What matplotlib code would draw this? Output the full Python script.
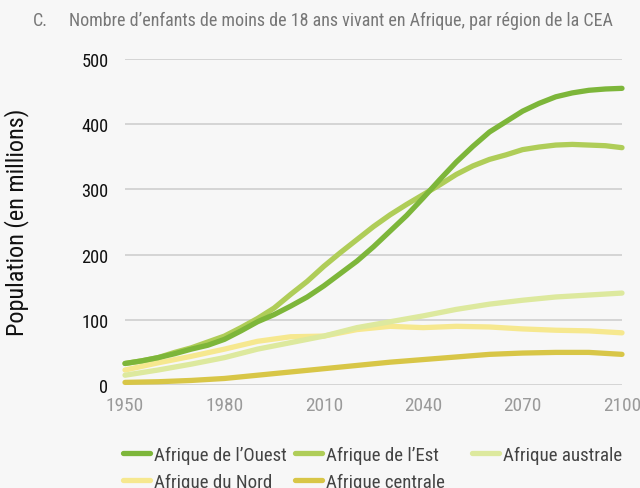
import matplotlib
matplotlib.use("Agg")
import matplotlib.pyplot as plt
from matplotlib import font_manager

names = {f.name for f in font_manager.fontManager.ttflist}
FONT = "DejaVu Sans"
for cand in ["Roboto Condensed", "Liberation Sans Narrow", "Arial Narrow", "Roboto"]:
    if cand in names:
        FONT = cand
        break

years5 = [1950, 1955, 1960, 1965, 1970, 1975, 1980, 1985, 1990, 1995, 2000, 2005,
          2010, 2015, 2020, 2025, 2030, 2035, 2040, 2045, 2050, 2055, 2060, 2065,
          2070, 2075, 2080, 2085, 2090, 2095, 2100]
years10 = [1950, 1960, 1970, 1980, 1990, 2000, 2010, 2020, 2030, 2040,
           2050, 2060, 2070, 2080, 2090, 2100]
ouest = [33, 37, 42, 48, 55, 61, 70, 83, 97, 108, 121, 135, 152, 171, 190, 212,
         236, 260, 287, 315, 342, 366, 388, 404, 420, 432, 442, 448, 452, 454, 455]
est = [33, 37, 42, 50, 57, 66, 75, 88, 102, 118, 139, 159, 182, 203, 223, 243,
       261, 277, 292, 307, 323, 336, 346, 353, 361, 365, 368, 369, 368, 367, 364]
australe = [15, 23, 32, 42, 55, 65, 75, 88, 97, 106, 116, 124, 130, 135, 138, 141]
nord = [23, 34, 44, 55, 67, 74, 75, 85, 90, 88, 90, 89, 86, 84, 83, 80]
centrale = [4, 5, 7, 10, 15, 20, 25, 30, 35, 39, 43, 47, 49, 50, 50, 47]

labels = ["Afrique de l\u2019Ouest", "Afrique de l\u2019Est", "Afrique australe",
          "Afrique du Nord", "Afrique centrale"]
series = [(years5, ouest), (years5, est), (years10, australe),
          (years10, nord), (years10, centrale)]
colors = ["#7db63a", "#afcd58", "#dde99e", "#f6e88f", "#d8c647"]

xticks = [1950, 1980, 2010, 2040, 2070, 2100]
yticks = [0, 100, 200, 300, 400, 500]

title_letter = "C."
title_text = "Nombre d\u2019enfants de moins de 18 ans vivant en Afrique, par r\u00e9gion de la CEA"
ylabel = "Population (en millions)"

bg = "#f7f7f7"
fig = plt.figure(figsize=(6.4, 4.89), dpi=100, facecolor=bg)
renderer = fig.canvas.get_renderer()


def fit(text, target_px):
    t = fig.text(0, 0, text, fontsize=10, family=FONT)
    w = t.get_window_extent(renderer).width
    t.remove()
    return 10 * target_px / w


title_fs = fit(title_text, 541)
ytick_fs = fit("500", 27)
xtick_fs = fit("1950", 38)
ylabel_fs = fit(ylabel, 226)
leg_fs = fit(labels[0], 132)

ax = fig.add_axes([125 / 640, 1 - 386 / 489, (622 - 125) / 640, (386 - 60) / 489])
ax.set_facecolor(bg)

handles = {}
for i in [4, 3, 2, 1, 0]:
    xs, ys = series[i]
    ln, = ax.plot(xs, ys, color=colors[i], lw=3.8,
                  solid_capstyle="round", solid_joinstyle="round",
                  clip_on=False, zorder=3 + (4 - i), label=labels[i])
    handles[i] = ln

ax.set_xlim(1950, 2100)
ax.set_ylim(0, 500)
ax.set_xticks(xticks)
ax.set_yticks(yticks)
ax.grid(axis="y", color="#d2d2d2", lw=1.3, zorder=0)
ax.set_axisbelow(True)
for s in ax.spines.values():
    s.set_visible(False)
ax.tick_params(axis="both", length=0)
ax.tick_params(axis="y", pad=12, labelsize=ytick_fs, labelcolor="#111111")
ax.tick_params(axis="x", pad=8, labelsize=xtick_fs, labelcolor="#9a9a9a")
for t in ax.get_yticklabels() + ax.get_xticklabels():
    t.set_fontfamily(FONT)

fig.text(17 / 640, 1 - 222 / 489, ylabel, rotation=90, ha="center", va="center",
         fontsize=ylabel_fs, family=FONT, color="#111111")

fig.text(32.7 / 640, 1 - 26 / 489, title_letter, ha="left", va="baseline",
         fontsize=title_fs, family=FONT, color="#777777")
fig.text(69 / 640, 1 - 26 / 489, title_text, ha="left", va="baseline",
         fontsize=title_fs, family=FONT, color="#777777")

# legend laid out row-wise as in the reference: one legend per column
columns = [([0, 3], 123), ([1, 4], 295), ([2], 472)]
for idx, xpix in columns:
    leg = fig.legend([handles[i] for i in idx], [labels[i] for i in idx], ncol=1,
                     loc="upper left", bbox_to_anchor=(xpix / 640, 1 - 447 / 489),
                     frameon=False, handlelength=27 / (leg_fs * 100 / 72),
                     handletextpad=0.2, labelspacing=0.45, borderaxespad=0,
                     borderpad=0, prop={"family": FONT, "size": leg_fs})
    for t in leg.get_texts():
        t.set_color("#444444")
    for h in leg.legend_handles:
        h.set_linewidth(3.8)
        h.set_solid_capstyle("round")

fig.savefig("out.png", dpi=100, facecolor=bg)
